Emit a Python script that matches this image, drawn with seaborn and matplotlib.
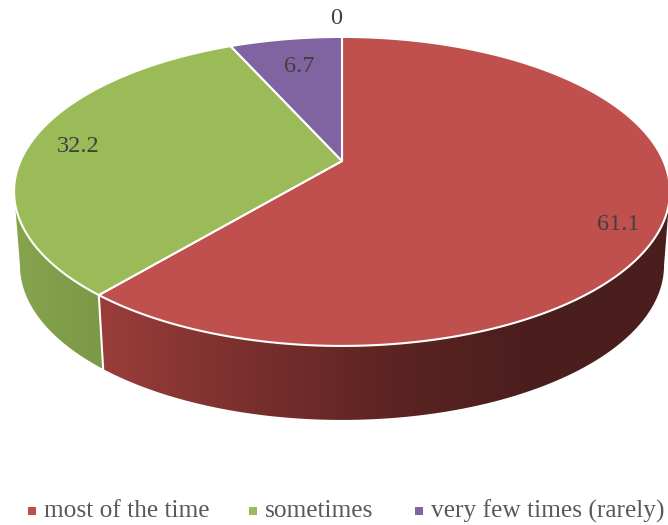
import numpy as np
import matplotlib
matplotlib.use("Agg")
import matplotlib.pyplot as plt
from matplotlib.colors import LinearSegmentedColormap
from matplotlib.patches import Polygon
import seaborn as sns

categories = ["most of the time", "sometimes", "very few times (rarely)", "never"]
values = [61.1, 32.2, 6.7, 0]
value_labels = ["61.1", "32.2", "6.7", "0"]
legend_names = categories[:3]

sns.set_theme(style="white")
plt.rcParams["font.family"] = ["Liberation Serif", "DejaVu Serif"]
top_colors = sns.color_palette(["#c0504d", "#9bbb59", "#8064a2"])

fig = plt.figure(figsize=(6.68, 5.25), dpi=100)
ax = fig.add_axes([0, 0, 1, 1])
ax.set_xlim(0, 668)
ax.set_ylim(525, 0)
ax.axis("off")

# Perspective view of the disc, centre of the pie at (cx, cy) in pixels
cx, cy = 342.0, 161.0
scale_x, scale_y, tilt = 321.5, 148.5, 0.197


def rim(theta):
    """Project clockwise-from-top angles (radians) onto the top face rim."""
    u, v = np.sin(theta), np.cos(theta)
    d = 1 + tilt * v
    return cx + scale_x * u / d, cy - scale_y * v / d


def lower_rim(theta):
    """Matching points on the bottom edge of the side wall."""
    x, y = rim(theta)
    return cx + (x - cx) * 0.982, y + 74


def wall(start, end, x0, x1, colors):
    """Shade one wall segment with a horizontal gradient between x0 and x1."""
    theta = np.linspace(start, end, 200)
    xt, yt = rim(theta)
    xb, yb = lower_rim(theta[::-1])
    outline = Polygon(np.c_[np.r_[xt, xb], np.r_[yt, yb]], closed=True,
                      facecolor="none", edgecolor="none", transform=ax.transData)
    ax.add_patch(outline)
    cmap = LinearSegmentedColormap.from_list("wall", colors)
    image = ax.imshow(np.linspace(0, 1, 256)[None, :], cmap=cmap, aspect="auto",
                      extent=(x0, x1, 525, 0), interpolation="bilinear", zorder=1)
    image.set_clip_path(outline)


fractions = np.array(values) / sum(values)
edges = np.concatenate([[0], np.cumsum(fractions)]) * 2 * np.pi
split = edges[1]

# The wall runs between the two widest points of the projected rim
widest = np.arccos(-tilt)

# Side wall, red segment darkening to the right and green segment to its left
wall(widest, split, 100, 680, ["#9a3d3a", "#7a302e", "#5c2422", "#4a1e1d", "#4a1e1d"])
wall(split, 2 * np.pi - widest, 10, 110, ["#87a44e", "#7a9846"])
ax.set_xlim(0, 668)
ax.set_ylim(525, 0)

# White seam between the two visible wall segments
sx, sy = rim(split)
bx, by = lower_rim(split)
ax.plot([sx, bx], [sy, by], color="white", lw=1.5, zorder=2)

# Top face wedges
for i, color in enumerate(top_colors):
    theta = np.linspace(edges[i], edges[i + 1], 200)
    x, y = rim(theta)
    ax.fill(np.r_[cx, x], np.r_[cy, y], facecolor=color, edgecolor="white",
            lw=1.5, joinstyle="round", zorder=3)

# Value labels
label_xy = [(618, 224), (78, 146), (299, 67), (336, 19)]
for text, (lx, ly) in zip(value_labels, label_xy):
    ax.text(lx, ly, text, ha="center", va="center", fontsize=17.5,
            color="#404040", zorder=5)

# Legend row along the bottom
legend_x = [28, 249, 415]
for name, color, lx in zip(legend_names, top_colors, legend_x):
    ax.scatter([lx + 4], [511], marker="s", s=34, color=color, linewidths=0, zorder=5)
    ax.text(lx + 16, 511, name, ha="left", va="center", fontsize=18.3,
            color="#595959", zorder=5)

fig.savefig("out.png", dpi=100)
